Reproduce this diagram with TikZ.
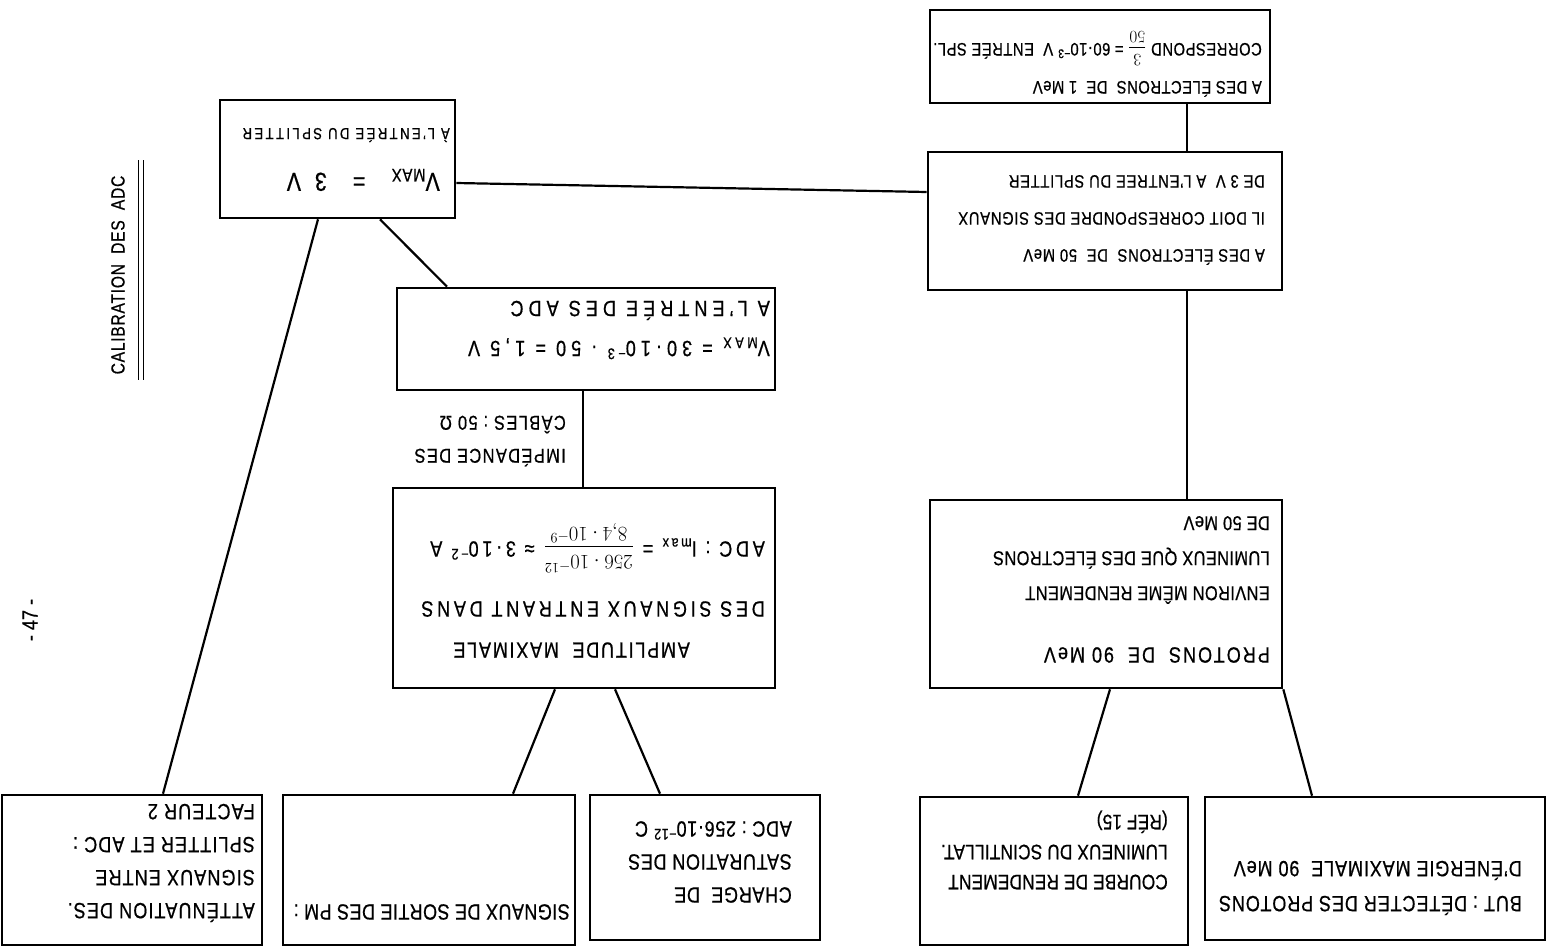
\documentclass[tikz,border=0pt]{standalone}
\usepackage{fontspec}
\setmainfont[FakeStretch=0.82,FakeBold=0.6]{Liberation Sans}
\newcommand\hand[3]{\fontsize{#1}{#2}\selectfont\addfontfeature{LetterSpace=#3}}
\begin{document}
\begin{tikzpicture}[x=1pt,y=-1pt,
    box/.style={draw,line width=2.6pt,inner sep=0pt},
    note/.style={rotate=180,anchor=west,align=left,inner sep=0pt},
    wire/.style={line width=2.2pt}]
\useasboundingbox[fill=white] (0,0) rectangle (1556,950);

% title and page number
\node[rotate=90,font=\hand{19}{19}{4}] (title) at (118,275) {CALIBRATION\ \ DES\ \ ADC};
\draw[line width=1.4pt] ([xshift=10pt,yshift=-2pt]title.south west) -- ([xshift=10pt,yshift=12pt]title.south east);
\draw[line width=1.4pt] ([xshift=15pt,yshift=-2pt]title.south west) -- ([xshift=15pt,yshift=12pt]title.south east);
\node[rotate=90,font=\hand{22}{22}{0}] (page) at (30,620) {-\ 47\ -};

% boxes
\node[box,minimum width=340pt,minimum height=93pt] (b1) at (1100,56.5) {};
\node[box,minimum width=354pt,minimum height=138pt] (b2) at (1105,221) {};
\node[box,minimum width=235pt,minimum height=118pt] (b3) at (337.5,159) {};
\node[box,minimum width=378pt,minimum height=102pt] (b4) at (586,339) {};
\node[box,minimum width=382pt,minimum height=200pt] (b5) at (584,588) {};
\node[box,minimum width=352pt,minimum height=188pt] (b6) at (1106,594) {};
\node[box,minimum width=260pt,minimum height=150pt] (b7) at (132,870) {};
\node[box,minimum width=292pt,minimum height=150pt] (b8) at (429,870) {};
\node[box,minimum width=230pt,minimum height=145pt] (b9) at (705,867.5) {};
\node[box,minimum width=268pt,minimum height=148pt] (b10) at (1054,871) {};
\node[box,minimum width=340pt,minimum height=143pt] (b11) at (1375,868.5) {};

% texts (the sheet is upside down)
\node[note,font=\hand{18}{38}{3}] (t1) at (1262,64) {A DES ÉLECTRONS\ \ DE\ \ 1 MeV\\CORRESPOND ${\displaystyle\frac{3}{50}}$ = 60·10\textsuperscript{−3} V\ \ ENTRÉE SPL.};
\node[note,font=\hand{18}{37}{4}] (t2) at (1265,220) {A DES ÉLECTRONS\ \ DE\ \ 50 MeV\\IL DOIT CORRESPONDRE DES SIGNAUX\\DE 3 V\ \ A L'ENTREE DU SPLITTER};
\node[note,font=\hand{26}{26}{4}] (t3a) at (440,180) {V\textsubscript{MAX}\quad=\quad3\ \ V};
\node[note,font=\hand{16}{16}{15}] (t3b) at (450,135) {À L'ENTRÉE DU SPLITTER};
\node[note,font=\hand{22}{40}{23}] (t4) at (770,330) {V\textsubscript{MAX} = 30·10\textsuperscript{−3} · 50 = 1,5 V\\A L'ENTRÉE DES ADC};
\node[note,font=\hand{20}{33}{7}] (cable) at (566,441) {IMPÉDANCE DES\\CÂBLES : 50 Ω};
\node[note,font=\hand{22}{22}{8}] (t5a) at (690,650) {AMPLITUDE\ \ MAXIMALE};
\node[note,font=\hand{22}{60}{17}] (t5b) at (765,570) {DES SIGNAUX ENTRANT DANS\\ADC : I\textsubscript{max} = ${\displaystyle\frac{256\cdot10^{-12}}{8{,}4\cdot10^{-9}}}$ ≈ 3·10\textsuperscript{−2} A};
\node[note,font=\hand{22}{22}{9}] (t6a) at (1270,655) {PROTONS\ \ DE\ \ 90 MeV};
\node[note,font=\hand{20}{35}{2}] (t6b) at (1270,560) {ENVIRON MÊME RENDEMENT\\LUMINEUX QUE DES ÉLECTRONS\\DE 50 MeV};
\node[note,font=\hand{22}{33}{5}] (t7) at (255,863) {ATTÉNUATION DES.\\SIGNAUX ENTRE\\SPLITTER ET ADC :\\FACTEUR 2};
\node[note,font=\hand{22}{22}{2}] (t8) at (570,912) {SIGNAUX DE SORTIE DES PM :};
\node[note,font=\hand{22}{33}{3}] (t9) at (792,862) {CHARGE\ \ DE\\SATURATION DES\\ADC : 256·10\textsuperscript{−12} C};
\node[note,font=\hand{21}{30}{1}] (t10) at (1168,850) {COURBE DE RENDEMENT\\LUMINEUX DU SCINTILLAT.\\(RÉF 15)};
\node[note,font=\hand{22}{35}{4}] (t11) at (1522,888) {BUT : DÉTECTER DES PROTONS\\D'ÉNERGIE MAXIMALE\ \ 90 MeV};

% connectors
\draw[wire] ([xshift=87pt]b1.south) -- ([xshift=82pt]b2.north);
\draw[wire] ([yshift=29pt]b2.west) -- ([yshift=-24pt]b3.east);
\draw[wire] ([xshift=42.5pt]b3.south) -- ([xshift=-139pt]b4.north);
\draw[wire] ([xshift=-19.5pt]b3.south) -- ([xshift=31pt]b7.north);
\draw[wire] ([xshift=-3pt]b4.south) -- ([xshift=-1pt]b5.north);
\draw[wire] ([xshift=-29pt]b5.south) -- ([xshift=84pt]b8.north);
\draw[wire] ([xshift=31pt]b5.south) -- ([xshift=-45pt]b9.north);
\draw[wire] ([xshift=82pt]b2.south) -- ([xshift=81pt]b6.north);
\draw[wire] ([xshift=4pt]b6.south) -- ([xshift=24pt]b10.north);
\draw[wire] (b6.south east) -- ([xshift=-63pt]b11.north);
\end{tikzpicture}
\end{document}
